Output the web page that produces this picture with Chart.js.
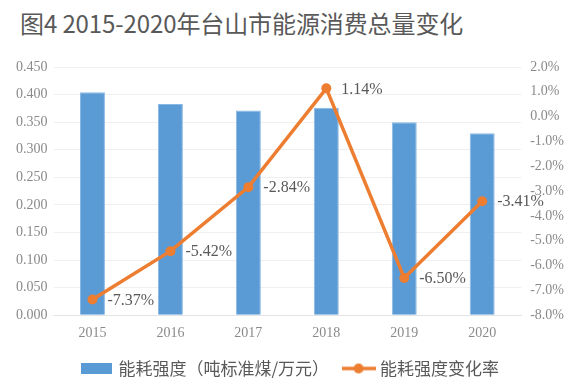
<!DOCTYPE html>
<html>
<head>
<meta charset="utf-8">
<script src="https://cdn.jsdelivr.net/npm/chart.js@4"></script>
<style>
  html, body { margin: 0; padding: 0; background: #ffffff; }
  #wrap { position: relative; width: 575px; height: 387px; overflow: hidden; }
  #title { position: absolute; left: 20px; top: 10px; font-family: "Noto Sans CJK SC", sans-serif; font-size: 24px; line-height: 26px; color: #595959; white-space: nowrap; letter-spacing: -0.1px; }
  canvas { position: absolute; left: 0; top: 0; }
</style>
</head>
<body>
<div id="wrap">
  <div id="title">图4 2015-2020年台山市能源消费总量变化</div>
  <canvas id="c" width="575" height="387"></canvas>
</div>
<script>
const categories = ['2015', '2016', '2017', '2018', '2019', '2020'];
const intensity = [0.404, 0.383, 0.371, 0.376, 0.350, 0.330];
const changeRate = [-7.37, -5.42, -2.84, 1.14, -6.50, -3.41];
const barName = '能耗强度（吨标准煤/万元）';
const lineName = '能耗强度变化率';

const BLUE = '#5B9BD5';
const ORANGE = '#ED7D31';

function makeBarIcon() {
  const c = document.createElement('canvas');
  c.width = 31; c.height = 11;
  const g = c.getContext('2d');
  g.fillStyle = BLUE;
  g.fillRect(0, 0, 31, 11);
  return c;
}
function makeLineIcon() {
  const c = document.createElement('canvas');
  c.width = 34; c.height = 12;
  const g = c.getContext('2d');
  g.strokeStyle = ORANGE;
  g.lineWidth = 3.5;
  g.beginPath(); g.moveTo(0, 6); g.lineTo(34, 6); g.stroke();
  g.fillStyle = ORANGE;
  g.beginPath(); g.arc(17, 6, 5, 0, Math.PI * 2); g.fill();
  return c;
}
const barIcon = makeBarIcon();
const lineIcon = makeLineIcon();

const labelPlugin = {
  id: 'lineLabels',
  afterDatasetsDraw(chart) {
    const meta = chart.getDatasetMeta(1);
    const ctx = chart.ctx;
    ctx.save();
    ctx.font = '16px "Liberation Serif", serif';
    ctx.fillStyle = '#595959';
    ctx.textBaseline = 'middle';
    ctx.textAlign = 'left';
    meta.data.forEach((p, i) => {
      ctx.fillText(changeRate[i].toFixed(2) + '%', p.x + 15, p.y + 1);
    });
    ctx.restore();
  }
};

new Chart(document.getElementById('c'), {
  data: {
    labels: categories,
    datasets: [
      {
        type: 'bar',
        label: barName,
        data: intensity,
        backgroundColor: BLUE,
        borderColor: '#8ab8e4',
        borderWidth: 1,
        barPercentage: 0.32,
        categoryPercentage: 1.0,
        yAxisID: 'y',
        order: 2
      },
      {
        type: 'line',
        label: lineName,
        data: changeRate,
        borderColor: ORANGE,
        backgroundColor: ORANGE,
        borderWidth: 3.5,
        pointRadius: 5,
        pointBackgroundColor: ORANGE,
        pointBorderColor: ORANGE,
        pointBorderWidth: 0,
        tension: 0,
        yAxisID: 'y1',
        order: 1
      }
    ]
  },
  options: {
    responsive: false,
    animation: false,
    devicePixelRatio: 1,
    layout: { padding: { left: 10, right: 2, top: 67, bottom: 0 } },
    plugins: {
      title: { display: false },
      tooltip: { enabled: false },
      legend: {
        position: 'bottom',
        labels: {
          usePointStyle: true,
          pointStyleWidth: 26,
          padding: 8,
          color: '#595959',
          font: { family: '"Noto Sans CJK SC", sans-serif', size: 17 },
          generateLabels(chart) {
            const items = Chart.defaults.plugins.legend.labels.generateLabels(chart);
            items.sort((a, b) => a.datasetIndex - b.datasetIndex);
            items.forEach(it => {
              if (it.datasetIndex === 0) {
                it.pointStyle = barIcon;
                it.text = barName + '\u2002';
              } else {
                it.pointStyle = lineIcon;
              }
            });
            return items;
          }
        }
      }
    },
    scales: {
      x: {
        grid: { display: false, drawTicks: false },
        border: { display: true, color: '#e3e3e3' },
        ticks: {
          color: '#8a8a8a',
          padding: 10,
          font: { family: '"Liberation Serif", serif', size: 14 }
        }
      },
      y: {
        position: 'left',
        min: 0,
        max: 0.45,
        grid: { color: '#efefef', drawTicks: false },
        border: { display: false },
        ticks: {
          stepSize: 0.05,
          padding: 6,
          color: '#8a8a8a',
          font: { family: '"Liberation Serif", serif', size: 14 },
          callback: v => Number(v).toFixed(3)
        }
      },
      y1: {
        position: 'right',
        min: -8,
        max: 2,
        grid: { display: false, drawTicks: false },
        border: { display: false },
        ticks: {
          stepSize: 1,
          padding: 9,
          color: '#8a8a8a',
          font: { family: '"Liberation Serif", serif', size: 14 },
          callback: v => Number(v).toFixed(1) + '%'
        }
      }
    }
  },
  plugins: [labelPlugin]
});
</script>
</body>
</html>
